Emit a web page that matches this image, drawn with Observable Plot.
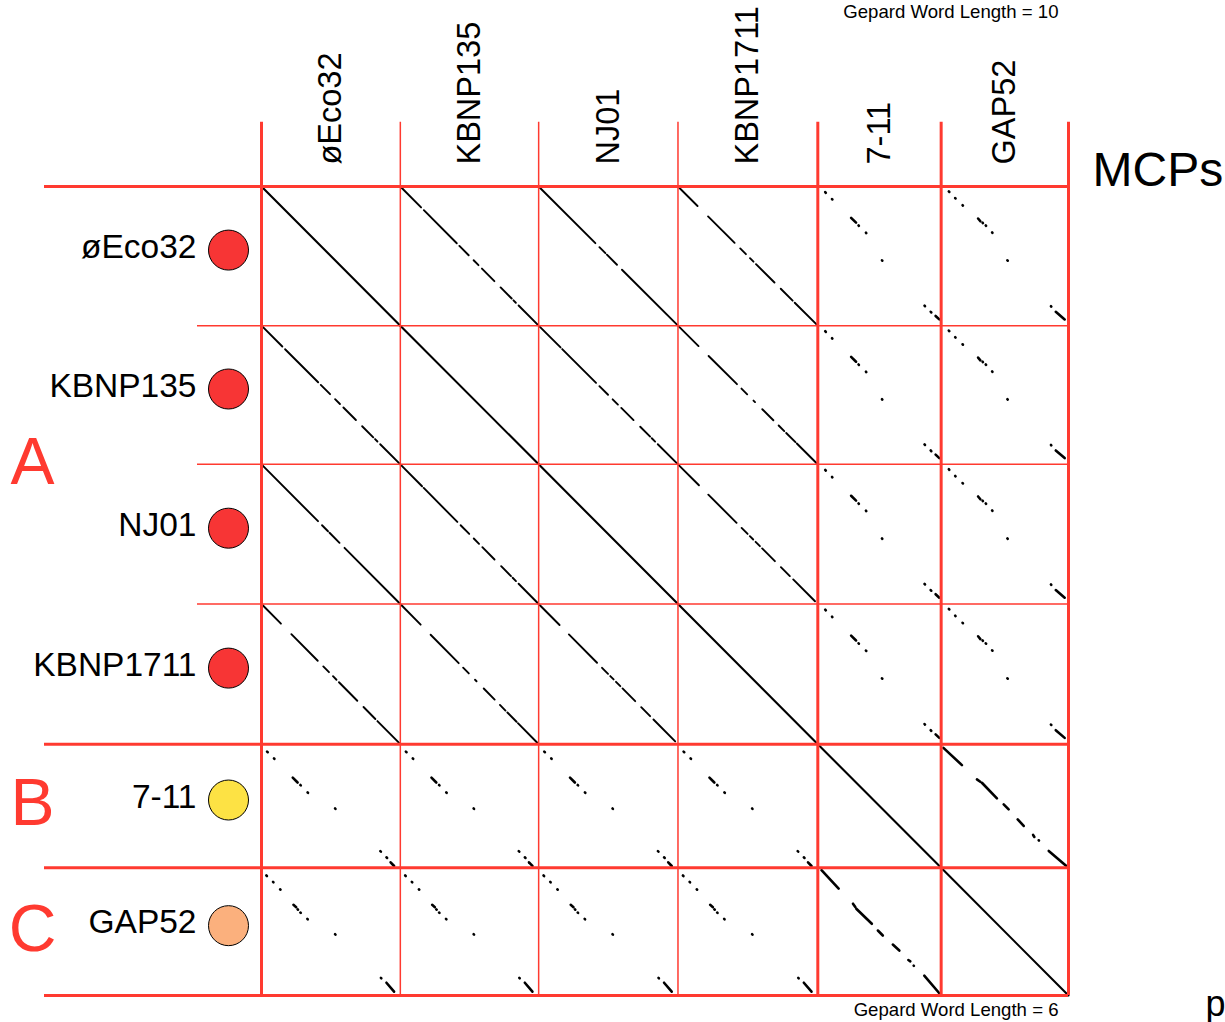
<!DOCTYPE html>
<html>
<head>
<meta charset="utf-8">
<script src="https://cdn.jsdelivr.net/npm/d3@7"></script>
<script src="https://cdn.jsdelivr.net/npm/@observablehq/plot@0.6"></script>
<style>
  html, body { margin: 0; padding: 0; background: white; }
  #chart svg { display: block; max-width: none; }
</style>
</head>
<body>
<div id="chart"></div>
<script>
// ---- Data ----
const genomes   = ["øEco32", "KBNP135", "NJ01", "KBNP1711", "7-11", "GAP52"];
const lengths   = [1390, 1385, 1395, 1400, 1235, 1275];   // sequence lengths (bp)
const groupOf   = ["A", "A", "A", "A", "B", "C"];
const dotColors = ["#f73535", "#f73535", "#f73535", "#f73535", "#fde244", "#fbb07d"];
const groupNames = ["A", "B", "C"];

// Match segments, in % of each sequence.  2 values = [from, to] along both; 4 values = [a1, b1, a2, b2]
const matchEco32_KBNP135  = [[0,15],[17,40.8],[42.7,49.4],[53,56.5],[59,68],[72.5,80.5],[81.8,83.5],[85.5,100]];
const matchEco32_NJ01     = [[0,40.7],[43.6,47.9],[49,56.2],[59.8,100]];
const matchEco32_KBNP1711 = [[0,14],[21.5,40.5],[44.5,48.6],[51.5,54],[55.8,69],[73.5,82],[83.5,100]];
const matchKBNP135_NJ01   = [[0,15.7],[16.9,41.2],[43.6,49.8],[53.1,56.9],[59.3,68.1],[72.9,80],[81.2,83.6],[85.5,100]];
const matchKBNP135_KBNP1711 = [[0.7,14.7],[21.9,42.2],[45.4,49.5],[54,55.1],[60.3,68.2],[72,76],[77.4,84],[85,99]];
const matchNJ01_KBNP1711  = [[0.7,15],[21.7,41.9],[45.5,49.8],[51.4,53.8],[55.5,58.6],[60.2,69.3],[73.6,80],[82.4,98]];
// group A member (a) vs 7-11 (b)
const matchA_711 = [[4,6,4.5,6.5],[9,11.5,9.3,11.8],[22.5,27,26,31],[28,33,28.3,33.3],[33.2,39,33.5,39.3],
                    [53,52,53.3,52.3],[85.6,86.5,86,86.9],[90,91.5,90.5,92],[93,95.5,95.5,98.5]];
// group A member (a) vs GAP52 (b)
const matchA_GAP52 = [[3.5,6,3.9,6.4],[8.3,11,8.6,11.3],[13.4,16.8,13.7,17.1],[23,29,25,30.8],[26,32.5,26.3,32.8],
                      [28,35,28.3,35.3],[33,40,33.3,40.3],[53,52,53.3,52.3],[86,86.2,86.3,86.5],[90,90,95.5,97]];
// 7-11 (a) vs GAP52 (b)
const match711_GAP52 = [[3,1.8,16.9,16.3],[28.5,28.1,30.4,30.7],[31.2,32,43.8,43.8],[48.7,49.1,52.7,53],
                        [60.8,60.1,66.1,64.8],[73.4,72.2,75,73.2],[77.7,76.6,77.9,76.8],[86.3,84.5,99.2,99]];
const selfMatch = [[0,100]];

// ---- Derived tables ----
const total = d3.sum(lengths);
const starts = lengths.map((_, i) => d3.sum(lengths.slice(0, i)));
const pairs = [
  [0,1,matchEco32_KBNP135],[0,2,matchEco32_NJ01],[0,3,matchEco32_KBNP1711],
  [1,2,matchKBNP135_NJ01],[1,3,matchKBNP135_KBNP1711],[2,3,matchNJ01_KBNP1711],
  [0,4,matchA_711],[1,4,matchA_711],[2,4,matchA_711],[3,4,matchA_711],
  [0,5,matchA_GAP52],[1,5,matchA_GAP52],[2,5,matchA_GAP52],[3,5,matchA_GAP52],
  [4,5,match711_GAP52]
];
genomes.forEach((_, i) => pairs.push([i, i, selfMatch]));

const segs = [];
for (const [ga, gb, list] of pairs) {
  for (const m of list) {
    const [a1, b1, a2, b2] = m.length === 2 ? [m[0], m[0], m[1], m[1]] : m;
    const pa1 = starts[ga] + a1 / 100 * lengths[ga], pa2 = starts[ga] + a2 / 100 * lengths[ga];
    const pb1 = starts[gb] + b1 / 100 * lengths[gb], pb2 = starts[gb] + b2 / 100 * lengths[gb];
    const w = ga === gb ? 2.1 : (groupOf[ga] === "A" && groupOf[gb] === "A") ? 1.9 : 2.6;
    segs.push({x1: pb1, y1: pa1, x2: pb2, y2: pa2, w});
    if (ga !== gb) segs.push({x1: pa1, y1: pb1, x2: pa2, y2: pb2, w});
  }
}

const cells = genomes.map((name, i) => ({name, center: starts[i] + lengths[i] / 2, color: dotColors[i]}));
const bounds = d3.range(genomes.length + 1).map(i => ({
  pos: i < genomes.length ? starts[i] : total,
  thick: i === 0 || i === genomes.length || groupOf[i] !== groupOf[i - 1]
}));
const groupCenters = groupNames.map(g => {
  const idx = genomes.map((_, i) => i).filter(i => groupOf[i] === g);
  const a = starts[idx[0]], b = starts[idx[idx.length - 1]] + lengths[idx[idx.length - 1]];
  return {g, center: (a + b) / 2};
});

// ---- Layout ----
const W = 1225, H = 1022, mL = 261, mR = 157, mT = 186, mB = 27;
const k = total / (W - mL - mR); // data units per pixel
const red = "#ff3a30";

const chart = Plot.plot({
  width: W, height: H,
  marginLeft: mL, marginRight: mR, marginTop: mT, marginBottom: mB,
  x: {domain: [0, total], axis: null},
  y: {domain: [0, total], reverse: true, axis: null},
  style: {fontFamily: "'Liberation Sans', Arial, sans-serif", background: "white", overflow: "visible"},
  marks: [
    Plot.link(segs, {x1: "x1", y1: "y1", x2: "x2", y2: "y2", stroke: "#000", strokeWidth: "w", strokeLinecap: "round"}),
    Plot.ruleY(bounds, {y: "pos", x1: d => -(d.thick ? 217 : 64) * k, x2: total,
      stroke: red, strokeWidth: d => d.thick ? 3 : 1.5}),
    Plot.ruleX(bounds, {x: "pos", y1: -64 * k, y2: total,
      stroke: red, strokeWidth: d => d.thick ? 3 : 1.5}),
    // column labels
    Plot.text(cells, {x: "center", y: 0, text: "name", rotate: -90, textAnchor: "start",
      dy: -22, fontSize: 32.5, fill: "black"}),
    // row labels
    Plot.text(cells, {y: "center", text: "name", frameAnchor: "left", textAnchor: "end",
      dx: -65, dy: -9, fontSize: 33.5, fill: "black"}),
    Plot.dot(cells, {y: "center", frameAnchor: "left", dx: -33, dy: -6, r: 20,
      fill: "color", stroke: "black", strokeWidth: 1}),
    // group letters
    Plot.text(groupCenters, {y: "center", text: "g", frameAnchor: "left", textAnchor: "middle",
      dx: -229, dy: -2, fontSize: 66, fill: red}),
    // annotations
    Plot.text(["MCPs"], {x: total, y: 0, text: d => d, textAnchor: "start", dx: 24, dy: -16, fontSize: 48, fill: "black"}),
    Plot.text(["Gepard Word Length = 10"], {x: total, y: 0, text: d => d, textAnchor: "end", dx: -10, dy: -174, fontSize: 18.6, fill: "black"}),
    Plot.text(["Gepard Word Length = 6"], {x: total, y: total, text: d => d, textAnchor: "end", dx: -10, dy: 15, fontSize: 18.6, fill: "black"}),
    Plot.text(["p"], {x: total, y: total, text: d => d, textAnchor: "start", dx: 137, dy: 9, fontSize: 36, fill: "black"})
  ]
});
document.getElementById("chart").appendChild(chart);
</script>
</body>
</html>
